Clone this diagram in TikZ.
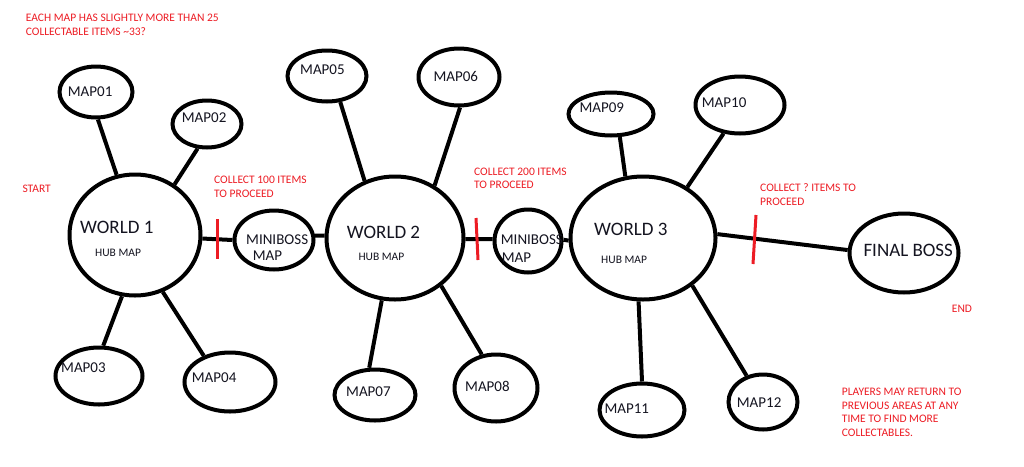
\documentclass[tikz,border=0pt]{standalone}
\usepackage{fontspec}
\setmainfont{Carlito}
\usetikzlibrary{shapes.geometric}
\definecolor{notered}{RGB}{237,28,36}
\definecolor{ink}{RGB}{20,20,32}
\begin{document}
\begin{tikzpicture}[x=1pt,y=-1pt,
 area/.style={draw=black, ellipse, line width=4pt, inner sep=0pt},
 link/.style={line width=4pt, draw=black},
 gate/.style={line width=3pt, draw=notered},
 big/.style={anchor=base west, inner sep=0pt, text=ink, font=\fontsize{19}{23}\selectfont},
 mid/.style={anchor=base west, inner sep=0pt, text=ink, font=\fontsize{15}{18}\selectfont},
 small/.style={anchor=base west, inner sep=0pt, text=ink, font=\fontsize{11.5}{14}\selectfont},
 note/.style={anchor=base west, inner sep=0pt, text=notered, font=\fontsize{11.5}{14}\selectfont},
]
\useasboundingbox (0,0) rectangle (1024,466);
\fill[white] (0,0) rectangle (1024,466);

% areas
\node[area, minimum width=131pt, minimum height=121pt] (w1) at (135,235) {};
\node[area, minimum width=79pt, minimum height=59pt] (mb1) at (274,240) {};
\node[area, minimum width=137pt, minimum height=123pt] (w2) at (395,238) {};
\node[area, minimum width=67pt, minimum height=63pt] (mb2) at (528,241) {};
\node[area, minimum width=145pt, minimum height=123pt] (w3) at (643,238) {};
\node[area, minimum width=109pt, minimum height=79pt] (fb) at (904,253) {};
\node[area, minimum width=73pt, minimum height=51pt] (m01) at (96,92) {};
\node[area, minimum width=69pt, minimum height=47pt] (m02) at (207,124) {};
\node[area, minimum width=87pt, minimum height=57pt] (m03) at (99,376) {};
\node[area, minimum width=91pt, minimum height=59pt] (m04) at (230,382) {};
\node[area, minimum width=79pt, minimum height=51pt] (m05) at (327,76) {};
\node[area, minimum width=81pt, minimum height=57pt] (m06) at (459,77) {};
\node[area, minimum width=81pt, minimum height=51pt] (m07) at (375,395) {};
\node[area, minimum width=83pt, minimum height=67pt] (m08) at (496,388) {};
\node[area, minimum width=85pt, minimum height=43pt] (m09) at (611,114) {};
\node[area, minimum width=89pt, minimum height=57pt] (m10) at (740,105) {};
\node[area, minimum width=85pt, minimum height=53pt] (m11) at (642,410) {};
\node[area, minimum width=69pt, minimum height=55pt] (m12) at (763,402) {};

% connectors
\draw[link] (m01.-86) -- (w1.107);
\draw[link] (m02.-111) -- (w1.52);
\draw[link] (w1.258) -- (m03.82);
\draw[link] (w1.-64) -- (m04.135);
\draw[link] (w1.-3) -- (mb1.180);
\draw[link] (mb1.6) -- (w2.178);
\draw[link] (m05.-63) -- (w2.118);
\draw[link] (m06.-88) -- (w2.53);
\draw[link] (w2.-102) -- (m07.102);
\draw[link] (w2.-46) -- (m08.113);
\draw[link] (w2.-1) -- (mb2.177);
\draw[link] (mb2.2) -- (w3.182);
\draw[link] (m09.-69) -- (w3.106);
\draw[link] (m10.-120) -- (w3.49);
\draw[link] (w3.-94) -- (m11.90);
\draw[link] (w3.-44) -- (m12.122);
\draw[link] (w3.3) -- (fb.177);

% gates
\draw[gate] (217,219) -- (217,259);
\draw[gate] (476,218) -- (478,260);
\draw[gate] (756,215) -- (753,264);

% labels
\node[big] (tw1) at (80,233.3) {WORLD 1};
\node[small] (th1) at (95,256.7) {HUB MAP};
\node[mid] (tmb1a) at (246,244) {MINIBOSS};
\node[mid] (tmb1b) at (252.7,260) {MAP};
\node[big] (tw2) at (346.7,238.3) {WORLD 2};
\node[small] (th2) at (358.3,260.7) {HUB MAP};
\node[mid] (tmb2a) at (500.7,244.3) {MINIBOSS};
\node[mid] (tmb2b) at (501.7,262.3) {MAP};
\node[big] (tw3) at (594,235) {WORLD 3};
\node[small] (th3) at (601,263.3) {HUB MAP};
\node[big] (tfb) at (863.3,256.7) {FINAL BOSS};
\node[mid] (t01) at (67.7,96.7) {MAP01};
\node[mid] (t02) at (181.7,122.7) {MAP02};
\node[mid] (t03) at (61,372.7) {MAP03};
\node[mid] (t04) at (191.7,382.7) {MAP04};
\node[mid] (t05) at (300,74) {MAP05};
\node[mid] (t06) at (433.3,81.7) {MAP06};
\node[mid] (t07) at (346,396) {MAP07};
\node[mid] (t08) at (465,391.7) {MAP08};
\node[mid] (t09) at (579.3,112.7) {MAP09};
\node[mid] (t10) at (701.7,107) {MAP10};
\node[mid] (t11) at (604.3,413.7) {MAP11};
\node[mid] (t12) at (736.7,407) {MAP12};

% notes
\node[note] (n1a) at (25.7,21.7) {EACH MAP HAS SLIGHTLY MORE THAN 25};
\node[note] (n1b) at (25.7,35.7) {COLLECTABLE ITEMS \textasciitilde 33?};
\node[note] (nstart) at (22.3,192.3) {START};
\node[note] (nc1a) at (214,183.3) {COLLECT 100 ITEMS};
\node[note] (nc1b) at (214,197) {TO PROCEED};
\node[note] (nc2a) at (474,175) {COLLECT 200 ITEMS};
\node[note] (nc2b) at (474,188.3) {TO PROCEED};
\node[note] (nc3a) at (760,191.7) {COLLECT ? ITEMS TO};
\node[note] (nc3b) at (760,205.3) {PROCEED};
\node[note] (nend) at (951.7,312) {END};
\node[note] (np1) at (841.7,395) {PLAYERS MAY RETURN TO};
\node[note] (np2) at (841.7,409) {PREVIOUS AREAS AT ANY};
\node[note] (np3) at (841.7,422.7) {TIME TO FIND MORE};
\node[note] (np4) at (841.7,436.3) {COLLECTABLES.};
\end{tikzpicture}
\end{document}
